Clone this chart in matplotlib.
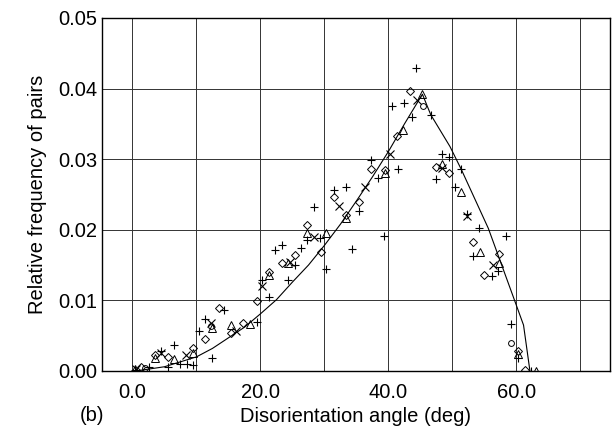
import matplotlib
matplotlib.use("Agg")
import matplotlib.pyplot as plt
from matplotlib.ticker import MultipleLocator, FormatStrFormatter

curve_x = [0.5, 5, 10, 12.5, 15, 17.5, 20, 22.5, 25, 27.5, 30, 32.5, 35, 37.5, 40, 42.5,
           45.3, 46.6, 49.6, 51.4, 55.6, 59.7, 61.1, 62.1]
curve_y = [0.0, 0.0006, 0.0020, 0.0032, 0.0047, 0.0062, 0.0081, 0.0101, 0.0126, 0.0150,
           0.0178, 0.0208, 0.0241, 0.0275, 0.0311, 0.0350,
           0.0392, 0.0363, 0.0318, 0.0285, 0.0202, 0.0100, 0.0065, 0.0]

# + markers
plus_x = [0.4, 2.6, 4.4, 5.6, 6.5, 7.5, 8.5, 9.4, 10.4, 11.3, 12.4, 14.3, 19.4, 20.2, 21.3,
          22.3, 23.4, 24.3, 25.4, 26.4, 27.3, 28.4, 29.3, 30.3, 31.5, 33.3, 34.3, 35.4,
          37.3, 38.4, 39.3, 40.5, 41.5, 42.4, 43.6, 44.3, 46.6, 47.4, 48.4, 49.5, 50.4,
          51.4, 52.2, 53.2, 54.2, 56.1, 57.1, 58.3, 59.2, 60.2, 62.3]
plus_y = [0.0002, 0.0005, 0.0029, 0.0006, 0.0037, 0.0010, 0.0010, 0.0008, 0.0057, 0.0073,
          0.0019, 0.0086, 0.0069, 0.0129, 0.0105, 0.0172, 0.0178, 0.0129, 0.0150, 0.0174,
          0.0185, 0.0232, 0.0189, 0.0145, 0.0257, 0.0260, 0.0173, 0.0226, 0.0299, 0.0273,
          0.0191, 0.0375, 0.0286, 0.0380, 0.0360, 0.0429, 0.0363, 0.0272, 0.0308, 0.0303,
          0.0261, 0.0286, 0.0222, 0.0163, 0.0202, 0.0134, 0.0141, 0.0191, 0.0067, 0.0018,
          0.0]

# x markers
cross_x = [0.6, 4.4, 8.3, 12.3, 16.2, 20.2, 24.6, 28.4, 32.3, 36.3, 40.2, 44.4, 48.4,
           52.2, 56.3]
cross_y = [0.0003, 0.0026, 0.0022, 0.0068, 0.0057, 0.0121, 0.0155, 0.0190, 0.0233, 0.0260,
           0.0308, 0.0384, 0.0287, 0.0219, 0.0150]

# diamond markers
diam_x = [1.4, 3.5, 5.5, 9.4, 11.3, 13.5, 15.4, 17.3, 19.4, 21.3, 23.4, 25.4, 27.3, 29.4,
          31.5, 33.3, 35.4, 37.3, 39.4, 41.4, 43.4, 47.4, 49.5, 53.2, 55.0, 57.2, 60.2, 61.3]
diam_y = [0.0005, 0.0023, 0.0020, 0.0032, 0.0046, 0.0089, 0.0054, 0.0068, 0.0099, 0.0140,
          0.0153, 0.0164, 0.0207, 0.0169, 0.0246, 0.0221, 0.0240, 0.0286, 0.0284, 0.0333,
          0.0396, 0.0289, 0.0281, 0.0183, 0.0136, 0.0166, 0.0028, 0.0001]

# triangle markers
tri_x = [0.4, 3.5, 6.5, 9.4, 12.4, 15.4, 18.3, 21.3, 24.3, 27.3, 30.3, 33.3, 39.4, 42.3,
         45.3, 48.3, 51.3, 54.3, 57.3, 60.2, 63.0]
tri_y = [0.0003, 0.0019, 0.0017, 0.0025, 0.0061, 0.0065, 0.0066, 0.0136, 0.0153, 0.0195,
         0.0196, 0.0217, 0.0280, 0.0341, 0.0392, 0.0293, 0.0254, 0.0168, 0.0153, 0.0024, 0.0]

# circle markers
circ_x = [2.0, 12.3, 45.4, 59.2]
circ_y = [0.0004, 0.0064, 0.0375, 0.0040]

x_ticks = [0, 20, 40, 60]


def main():
    plt.rcParams['font.family'] = ['Liberation Sans', 'DejaVu Sans']
    fig = plt.figure(figsize=(6.13, 4.38), dpi=100)
    ax = fig.add_axes([0.166, 0.153, 0.829, 0.806])

    ax.plot(curve_x, curve_y, color='black', lw=0.8)
    ms = 5.2
    ax.plot(plus_x, plus_y, '+', color='black', ms=ms + 1, mew=0.8, ls='none')
    ax.plot(cross_x, cross_y, 'x', color='black', ms=ms, mew=0.8, ls='none')
    ax.plot(diam_x, diam_y, 'D', mfc='none', mec='black', ms=ms - 1, mew=0.7, ls='none')
    ax.plot(tri_x, tri_y, '^', mfc='none', mec='black', ms=ms, mew=0.7, ls='none')
    ax.plot(circ_x, circ_y, 'o', mfc='none', mec='black', ms=ms - 1, mew=0.7, ls='none')

    ax.set_xlim(-4.8, 74.6)
    ax.set_ylim(0, 0.05)
    ax.set_xticks(x_ticks)
    ax.xaxis.set_major_formatter(FormatStrFormatter('%.1f'))
    ax.xaxis.set_minor_locator(MultipleLocator(10))
    ax.yaxis.set_major_locator(MultipleLocator(0.01))
    ax.yaxis.set_major_formatter(FormatStrFormatter('%.2f'))
    ax.grid(True, which='both', color='#333333', lw=0.7)
    ax.set_axisbelow(True)
    ax.tick_params(which='both', length=0, labelsize=14.5)
    ax.tick_params(axis='x', pad=9)
    ax.tick_params(axis='y', pad=3)
    for s in ax.spines.values():
        s.set_linewidth(1.0)

    ax.set_xlabel('Disorientation angle (deg)', fontsize=14.5, labelpad=3)
    ax.set_ylabel('Relative frequency of pairs', fontsize=14.5, labelpad=8)
    fig.text(0.150, 0.052, '(b)', fontsize=14.5, ha='center', va='center')

    fig.savefig('out.png', dpi=100)


if __name__ == "__main__":
    main()
